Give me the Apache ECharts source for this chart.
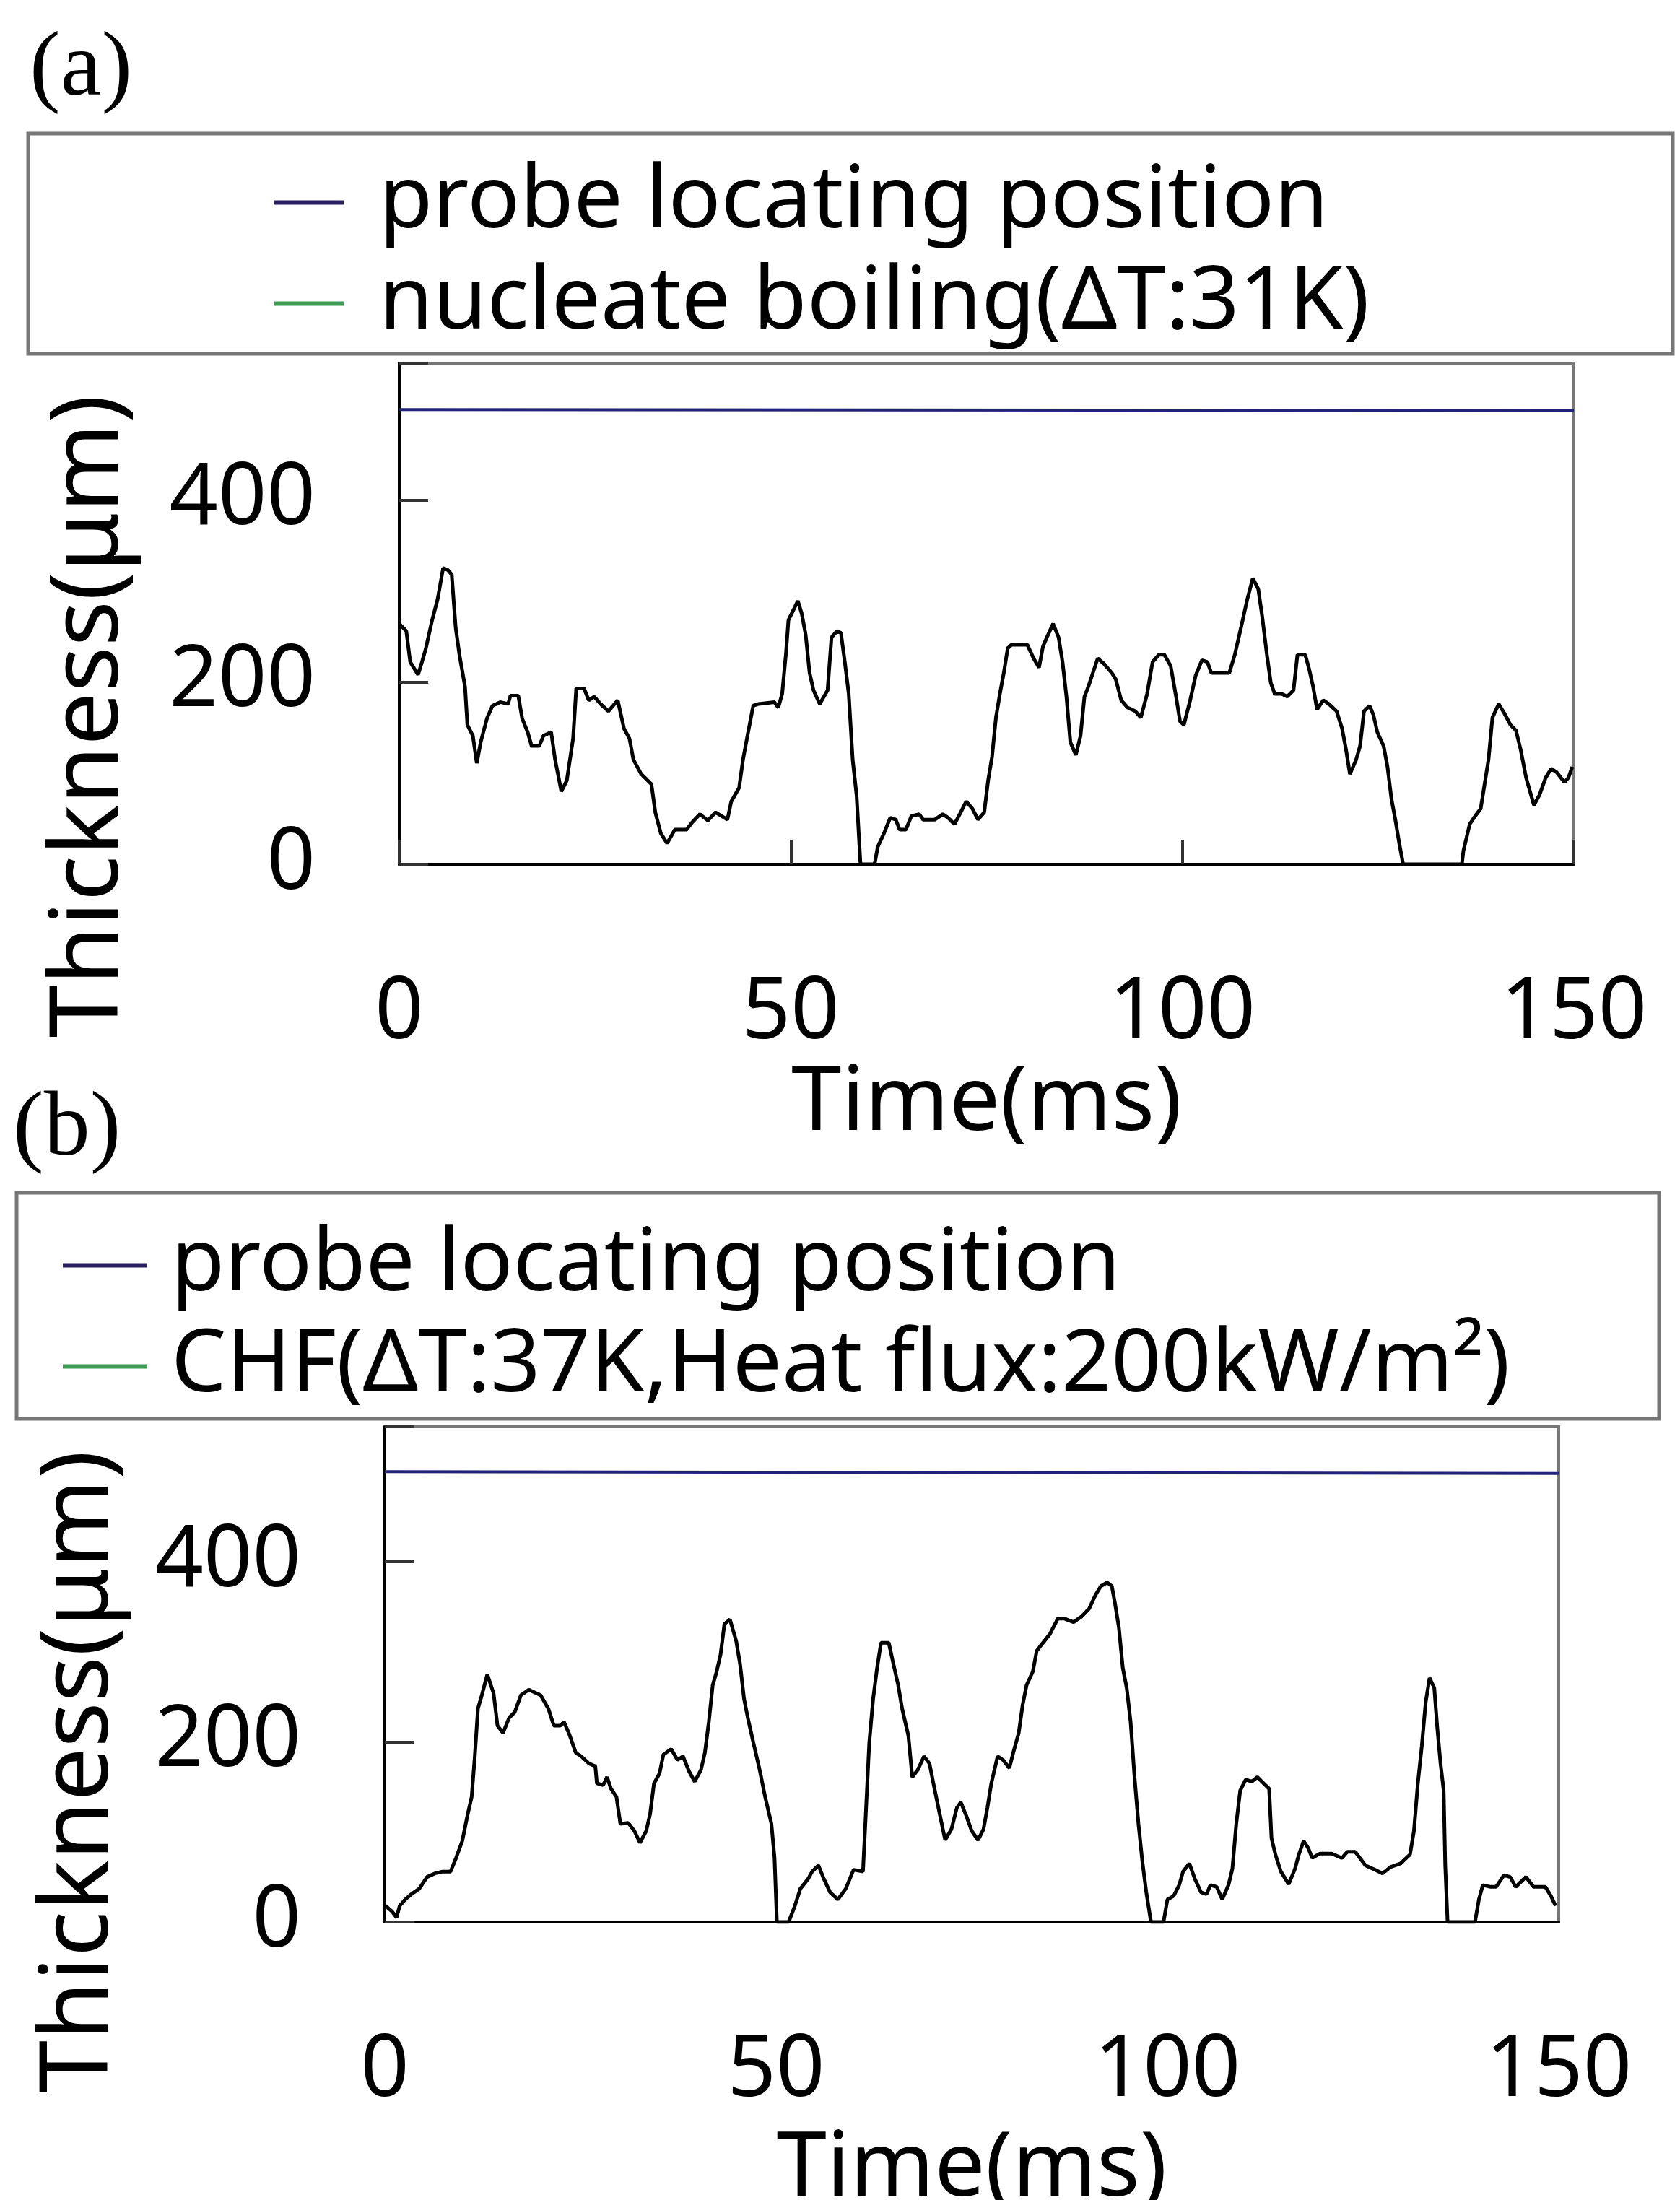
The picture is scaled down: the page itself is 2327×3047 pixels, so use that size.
<!DOCTYPE html>
<html>
<head>
<meta charset="utf-8">
<script src="https://cdn.jsdelivr.net/npm/echarts@6/dist/echarts.min.js"></script>
<style>
  html, body { margin: 0; padding: 0; background: #fff; }
  #chart { width: 2327px; height: 3047px; }
</style>
</head>
<body>
<div id="chart"></div>
<script>
// time (ms), film thickness (um)
const thickA = [
  [0,264],[0.9,256],[1.4,222],[2.4,208],[2.9,222],[3.4,237],[4.2,268],[4.9,291],[5.6,325],[6.2,323],
  [6.7,318],[7.2,260],[7.7,229],[8.4,195],[8.7,153],[9.4,141],[9.9,111],[10.4,134],[11.2,160],[11.9,174],
  [12.9,178],[13.9,176],[14.2,185],[15.2,185],[15.7,160],[16.4,145],[16.9,130],[17.9,130],[18.4,141],[19.4,145],
  [19.9,115],[20.7,80],[21.4,92],[22.2,138],[22.6,193],[23.6,193],[24.2,180],[24.9,184],[25.7,176],[26.7,168],
  [27.9,180],[28.7,149],[29.4,138],[29.9,115],[30.9,99],[32.2,88],[32.7,57],[33.4,34],[34.2,23],[35.2,38],
  [36.7,38],[37.4,46],[38.4,55],[39.4,48],[40.4,57],[41.9,49],[42.4,69],[43.4,84],[43.9,115],[44.4,138],
  [45.2,174],[45.9,176],[47.9,178],[48.4,172],[48.9,187],[49.4,233],[49.7,268],[50.9,289],[51.4,275],[51.9,252],
  [52.4,210],[52.9,191],[53.7,176],[54.7,191],[55.2,249],[55.9,256],[56.4,254],[56.9,222],[57.4,187],[57.9,115],
  [58.4,76],[58.9,0],[60.7,0],[61.1,19],[61.9,34],[62.7,51],[63.4,49],[63.9,38],[64.7,38],[65.4,53],
  [66.4,55],[66.9,49],[68.4,49],[69.4,55],[70.1,51],[70.9,44],[71.7,57],[72.4,69],[73.2,61],[73.9,49],
  [74.7,57],[75.2,92],[75.7,118],[76.2,161],[76.7,187],[77.2,210],[77.7,237],[78.2,241],[80.2,241],[81.0,226],
  [81.7,216],[82.2,239],[82.7,249],[83.5,264],[84.2,249],[84.7,222],[85.2,184],[85.7,134],[86.4,120],[87.0,141],
  [87.5,184],[88.0,195],[88.5,208],[89.2,226],[90.0,220],[91.0,210],[91.5,203],[92.2,180],[93.0,172],[94.0,168],
  [94.7,161],[95.5,187],[96.2,222],[97.0,230],[97.7,230],[98.5,218],[99.2,184],[99.7,157],[100.2,153],[101.0,180],
  [101.7,207],[102.5,224],[103.2,222],[103.7,210],[106.0,210],[106.7,230],[107.5,260],[108.3,291],[109.0,314],[109.7,302],
  [110.2,272],[110.8,230],[111.3,199],[111.8,187],[112.7,187],[113.4,184],[114.2,191],[114.7,230],[115.7,230],[116.2,214],
  [116.7,195],[117.2,170],[118.0,180],[118.7,176],[119.7,168],[120.4,149],[120.9,126],[121.4,99],[122.2,115],[122.7,130],
  [123.2,168],[123.9,174],[124.4,164],[124.9,145],[125.7,130],[126.2,107],[126.7,72],[127.2,49],[127.7,23],[128.2,0],
  [135.7,0],[135.9,15],[136.7,44],[137.4,53],[138.1,61],[138.6,88],[139.1,115],[139.6,161],[140.4,176],[141.1,166],
  [141.9,153],[142.6,147],[143.2,126],[143.9,95],[144.9,65],[145.6,76],[146.4,95],[147.1,105],[147.8,101],[148.8,90],
  [149.3,95],[149.8,107]
];

const thickB = [
  [0.1,18],[0.9,12],[1.5,5],[1.9,18],[2.6,25],[3.4,31],[4.4,37],[5.4,50],[6.4,54],[7.4,56],
  [8.4,56],[9.1,71],[9.9,90],[10.6,120],[11.1,139],[11.5,184],[11.9,237],[12.4,252],[13.1,275],[13.9,254],
  [14.4,218],[15.1,210],[15.9,227],[16.6,233],[17.4,252],[18.4,258],[19.9,252],[20.9,237],[21.6,218],[22.4,218],
  [22.9,222],[23.6,208],[24.4,188],[25.1,184],[26.1,176],[26.9,173],[27.1,154],[27.9,152],[28.4,161],[28.9,148],
  [29.6,139],[30.1,109],[31.1,110],[31.9,101],[32.6,88],[33.4,101],[33.9,120],[34.4,154],[35.1,165],[35.6,186],
  [36.6,192],[37.4,180],[38.1,184],[38.9,167],[39.6,156],[40.4,169],[40.9,188],[41.4,222],[41.9,263],[42.4,278],
  [42.9,297],[43.4,331],[44.1,336],[44.9,312],[45.4,286],[45.9,248],[46.4,226],[47.1,199],[47.9,169],[48.6,139],
  [49.4,109],[49.8,71],[50.1,0],[51.6,0],[52.4,18],[53.1,37],[54.1,48],[54.6,56],[55.4,63],[56.1,48],
  [56.9,33],[57.9,25],[58.9,37],[59.9,58],[61.1,56],[61.4,109],[61.9,199],[62.4,248],[62.9,282],[63.4,310],
  [64.4,310],[64.9,290],[65.6,263],[66.1,237],[66.9,207],[67.4,161],[68.1,169],[68.9,184],[69.6,176],[70.1,154],
  [70.9,120],[71.6,91],[72.4,103],[73.1,127],[73.6,133],[74.3,118],[75.0,101],[75.8,91],[76.5,103],[77.0,127],
  [77.5,154],[78.3,184],[79.0,180],[79.8,171],[80.3,188],[81.0,210],[81.5,241],[82.0,263],[82.8,278],[83.3,301],
  [84.0,309],[85.0,320],[86.0,337],[86.8,337],[88.0,333],[89.0,339],[90.0,348],[90.8,363],[91.5,373],[92.3,377],
  [92.9,373],[93.3,354],[93.8,327],[94.3,282],[94.8,260],[95.3,222],[95.8,161],[96.3,109],[96.8,67],[97.3,33],
  [97.9,0],[99.5,0],[100.0,25],[100.8,29],[101.5,41],[102.0,56],[102.8,65],[103.5,48],[104.3,33],[105.0,31],
  [105.5,41],[106.3,39],[107.0,25],[107.8,41],[108.3,59],[108.8,109],[109.3,146],[110.0,158],[110.8,156],[111.5,161],
  [112.3,154],[113.0,148],[113.3,93],[113.8,75],[114.5,56],[115.5,42],[116.3,59],[116.8,75],[117.4,90],[118.0,82],
  [118.5,71],[119.5,76],[121.0,76],[122.3,71],[123.0,78],[124.0,78],[125.3,63],[126.3,59],[127.5,54],[128.5,61],
  [129.8,65],[131.0,75],[131.5,101],[132.0,154],[132.5,195],[133.0,244],[133.5,271],[134.1,260],[134.5,214],[134.9,176],
  [135.3,146],[135.5,63],[135.8,0],[139.3,0],[139.8,25],[140.3,41],[141.3,39],[142.0,39],[143.0,52],[143.8,50],
  [144.5,39],[145.8,50],[146.8,39],[148.3,39],[149.0,29],[149.6,18]
];

// probe locating position (constant line)
const probeA = [[0,499],[150,498]];
const probeB = [[0,500],[150,498]];

const xTicks = [0, 50, 100, 150];
const yTicks = [0, 200, 400];

const nameProbe = 'probe locating position';
const nameA = 'nucleate boiling(ΔT:31K)';
const nameB = 'CHF(ΔT:37K,Heat flux:200kW/m²)';

const FONT = 'Noto Sans, Noto Sans CJK JP, sans-serif';

function xAxisOf(grid, showTick, nameGap) {
    return {
        type: 'value', gridIndex: grid, min: 0, max: 150, interval: 50,
        name: 'Time(ms)', nameLocation: 'middle', nameGap: nameGap,
        nameTextStyle: { fontSize: 125, fontFamily: FONT, color: '#000' },
        axisLine: { lineStyle: { color: '#000', width: 4 } },
        axisTick: { show: showTick, inside: true, length: 34, lineStyle: { color: '#333', width: 4 } },
        axisLabel: { fontSize: 118, fontFamily: FONT, color: '#000', margin: 148,
            formatter: v => (xTicks.indexOf(v) >= 0 ? String(v) : '') },
        splitLine: { show: false }
    };
}

// shift moves the rotated name down the page
function yAxisOf(grid, nameGap, shift) {
    return {
        type: 'value', gridIndex: grid, min: 0, max: 550, interval: 200,
        name: 'Thickness(μm)', nameLocation: 'middle', nameGap: nameGap, nameRotate: 90,
        nameTextStyle: { fontSize: 132, fontFamily: FONT, color: '#000', padding: [0, shift * 2, 0, 0] },
        axisLine: { lineStyle: { color: '#000', width: 4 } },
        axisTick: { inside: true, length: 40, lineStyle: { color: '#333', width: 4 } },
        axisLabel: { fontSize: 118, fontFamily: FONT, color: '#000', margin: 116, padding: [22, 0, 0, 0],
            formatter: v => (yTicks.indexOf(v) >= 0 ? String(v) : '') },
        splitLine: { show: false }
    };
}

function legendOf(names, left, top, gap, iconW, gapLeft) {
    return {
        orient: 'vertical', left: left, top: top, padding: 0, itemGap: gap,
        icon: 'rect', itemWidth: iconW, itemHeight: 6,
        textStyle: { fontSize: 121, fontFamily: FONT, color: '#000', padding: [0, 0, 0, gapLeft] },
        data: [
            { name: names[0], itemStyle: { color: '#2a1f5e' } },
            { name: names[1], itemStyle: { color: '#3f9a55' } }
        ],
        selectedMode: false
    };
}

const chart = echarts.init(document.getElementById('chart'));
chart.setOption({
    animation: false,
    backgroundColor: '#fff',
    title: [
        { text: '(a)', left: 36, top: 28, textStyle: { fontSize: 128, fontFamily: 'Liberation Serif', fontWeight: 'normal', color: '#000' } },
        { text: '(b)', left: 13, top: 1496, textStyle: { fontSize: 128, fontFamily: 'Liberation Serif', fontWeight: 'normal', color: '#000' } }
    ],
    graphic: [
        { type: 'rect', shape: { x: 39, y: 185, width: 2278, height: 305 }, style: { fill: 'none', stroke: '#777', lineWidth: 5 } },
        { type: 'rect', shape: { x: 23, y: 1652, width: 2275, height: 313 }, style: { fill: 'none', stroke: '#777', lineWidth: 5 } }
    ],
    legend: [
        legendOf([nameProbe, nameA], 379, 220, 19, 97, 44),
        legendOf([nameProbe, nameB], 87, 1692, 19, 117, 28)
    ],
    grid: [
        { left: 553, top: 503, width: 1627, height: 694, containLabel: false, outerBoundsMode: 'none',
          show: true, borderColor: '#777', borderWidth: 4 },
        { left: 533, top: 1976, width: 1626, height: 686, containLabel: false, outerBoundsMode: 'none',
          show: true, borderColor: '#777', borderWidth: 4 }
    ],
    xAxis: [xAxisOf(0, true, 270), xAxisOf(1, false, 281)],
    yAxis: [yAxisOf(0, 362, 142), yAxisOf(1, 356, 135)],
    series: [
        { name: nameProbe, type: 'line', xAxisIndex: 0, yAxisIndex: 0, data: probeA, showSymbol: false,
          itemStyle: { color: '#22227a' }, lineStyle: { color: '#22227a', width: 4 } },
        { name: nameA, type: 'line', xAxisIndex: 0, yAxisIndex: 0, data: thickA, showSymbol: false,
          itemStyle: { color: '#3f9a55' }, lineStyle: { color: '#000', width: 5 } },
        { name: nameProbe, type: 'line', xAxisIndex: 1, yAxisIndex: 1, data: probeB, showSymbol: false,
          itemStyle: { color: '#22227a' }, lineStyle: { color: '#22227a', width: 4 } },
        { name: nameB, type: 'line', xAxisIndex: 1, yAxisIndex: 1, data: thickB, showSymbol: false,
          itemStyle: { color: '#3f9a55' }, lineStyle: { color: '#000', width: 5 } }
    ]
});
</script>
</body>
</html>
